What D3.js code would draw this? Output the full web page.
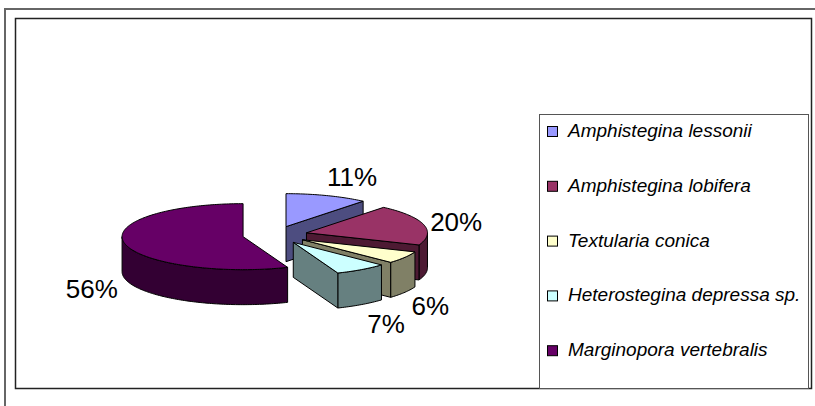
<!DOCTYPE html>
<html>
<head>
<meta charset="utf-8">
<script src="https://cdn.jsdelivr.net/npm/d3@7/dist/d3.min.js"></script>
<style>
  body { margin: 0; background: #fff; }
  svg { display: block; }
</style>
</head>
<body>
<div id="chart"></div>
<script>
var width = 815;
var height = 406;

// data
var species = ["Amphistegina lessonii", "Amphistegina lobifera", "Textularia conica",
               "Heterostegina depressa sp.", "Marginopora vertebralis"];
var percents = [11, 20, 6, 7, 56];
var colors = ["#9999ff", "#993366", "#ffffcc", "#ccffff", "#660066"];

var svg = d3.select("#chart").append("svg")
    .attr("width", width)
    .attr("height", height);

// frames
svg.append("path")
    .attr("d", "M5," + height + "V9H" + width)
    .attr("fill", "none")
    .attr("stroke", "#666")
    .attr("stroke-width", 2);

svg.append("rect")
    .attr("x", 15.5).attr("y", 18.5)
    .attr("width", 796).attr("height", 370)
    .attr("fill", "#fff")
    .attr("stroke", "#222")
    .attr("stroke-width", 1.5);

// 3d pie geometry
var rx = 121, ry = 33, depth = 35, explode = 32.5;
var cx = 275, cy = 235;

var pie = d3.pie().sort(null).value(function (d) { return d; });
var arcs = pie(percents);

var line = d3.line();

function edge(c, a, dz) {
    return [c[0] + rx * Math.sin(a), c[1] - ry * Math.cos(a) + (dz || 0)];
}

function arcPts(c, a0, a1, dz) {
    var pts = d3.range(a0, a1, 0.02).concat(a1);
    return pts.map(function (a) { return edge(c, a, dz); });
}

var slices = arcs.map(function (d, i) {
    var mid = (d.startAngle + d.endAngle) / 2;
    var c = [cx + explode * Math.sin(mid), cy - explode * (ry / rx) * Math.cos(mid)];
    return { i: i, a0: d.startAngle, a1: d.endAngle, mid: mid, c: c };
});

// back to front
var order = slices.slice().sort(function (a, b) {
    return Math.abs(b.mid - Math.PI) - Math.abs(a.mid - Math.PI);
});

var pieG = svg.append("g");

order.forEach(function (s) {
    var g = pieG.append("g");
    var base = d3.rgb(colors[s.i]);
    var dark = d3.rgb(base.r * 0.5, base.g * 0.5, base.b * 0.5);

    // outer wall, front half only
    var lo = Math.max(s.a0, Math.PI / 2), hi = Math.min(s.a1, 3 * Math.PI / 2);
    if (lo < hi) {
        var wall = arcPts(s.c, lo, hi, 0).concat(arcPts(s.c, lo, hi, depth).reverse());
        g.append("path")
            .attr("d", line(wall) + "Z")
            .attr("fill", dark);
    }

    // radial faces
    [[s.a0, Math.sin(s.a0) < -1e-6], [s.a1, Math.sin(s.a1) > 1e-6]].forEach(function (f) {
        if (!f[1]) return;
        var e = edge(s.c, f[0], 0);
        var face = [s.c, e, [e[0], e[1] + depth], [s.c[0], s.c[1] + depth]];
        g.append("path")
            .attr("d", line(face) + "Z")
            .attr("fill", dark);
    });

    // top
    var top = [s.c].concat(arcPts(s.c, s.a0, s.a1, 0));
    g.append("path")
        .attr("d", line(top) + "Z")
        .attr("fill", base);
});

pieG.selectAll("path")
    .attr("stroke", "#000")
    .attr("stroke-width", 1)
    .attr("stroke-linejoin", "round");

// percent labels
slices.forEach(function (s) {
    var sx = Math.sin(s.mid), cy0 = Math.cos(s.mid);
    var e = edge(s.c, s.mid, cy0 < 0 ? depth + 9 : 0);
    var dx = sx * rx, dy = -cy0 * ry;
    var len = Math.sqrt(dx * dx + dy * dy);
    dx /= len; dy /= len;

    var t = svg.append("text")
        .attr("font-family", "'Liberation Sans', Arial, sans-serif")
        .attr("font-size", 26)
        .attr("text-anchor", "middle")
        .text(percents[s.i] + "%");
    var w = t.node().getComputedTextLength();
    var h = 18;
    var ext = w / 2 * Math.abs(dx) + h / 2 * Math.abs(dy) + 6;
    t.attr("x", e[0] + dx * ext)
        .attr("y", e[1] + dy * ext + h / 2);
});

// legend
var legend = svg.append("g");

legend.append("rect")
    .attr("x", 539.5).attr("y", 114.5)
    .attr("width", 269).attr("height", 274)
    .attr("fill", "#fff")
    .attr("stroke", "#555")
    .attr("stroke-width", 1);

legend.append("clipPath")
    .attr("id", "legclip")
    .append("rect")
    .attr("x", 540).attr("y", 115)
    .attr("width", 268).attr("height", 273);

var item = legend.append("g")
    .attr("clip-path", "url(#legclip)")
    .selectAll(".item")
    .data(species)
    .enter().append("g")
    .attr("class", "item")
    .attr("transform", function (d, i) { return "translate(0," + (137 + i * 54.8) + ")"; });

item.append("rect")
    .attr("x", 547.5).attr("y", -10.5)
    .attr("width", 10).attr("height", 10)
    .attr("fill", function (d, i) { return colors[i]; })
    .attr("stroke", "#000")
    .attr("stroke-width", 1);

item.append("text")
    .attr("x", 568)
    .attr("y", 0)
    .attr("font-family", "'Liberation Sans', Arial, sans-serif")
    .attr("font-style", "italic")
    .attr("font-size", 19)
    .text(function (d) { return d; });
</script>
</body>
</html>
